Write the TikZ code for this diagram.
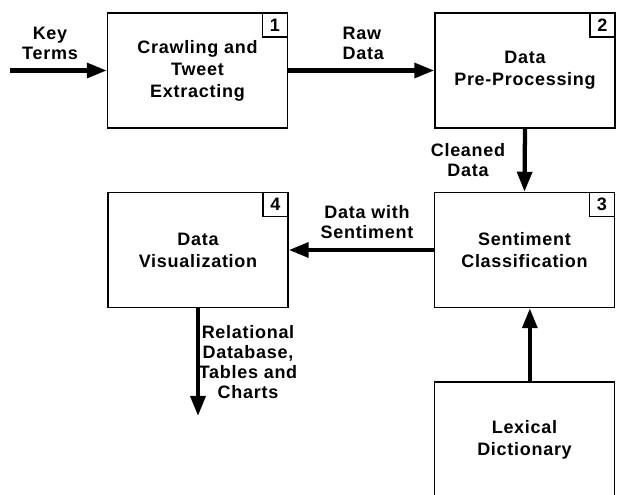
\documentclass[tikz,border=0pt]{standalone}
\usepackage{fontspec}
\setmainfont[LetterSpace=4]{Liberation Sans}
\usetikzlibrary{arrows.meta,positioning}

\begin{document}
\begin{tikzpicture}[
  x=0.75pt, y=-0.75pt,
  font=\fontsize{13.5}{16.5}\selectfont\bfseries,
  procbox/.style={draw, line width=1.1pt, align=center, inner sep=0pt,
                  minimum width=135pt, minimum height=86.25pt},
  numbox/.style={draw, line width=1.1pt, anchor=north east, inner sep=0pt,
                 minimum width=18.75pt, minimum height=18pt},
  lbl/.style={align=center, font=\fontsize{13.5}{15}\selectfont\bfseries},
  flow/.style={-{Triangle[length=15pt,width=11pt]}, line width=3.2pt},
]
  \useasboundingbox (0,0) rectangle (637,495);

  % process boxes
  \node[procbox] (crawl) at (197.5,70.5) {Crawling and\\Tweet\\Extracting};
  \node[procbox] (prep) at (525,70.5) {Data\\Pre-Processing};
  \node[procbox] (senti) at (524.5,250) {Sentiment\\Classification};
  \node[procbox] (visu) at (198,250) {Data\\Visualization};
  \node[procbox] (lexi) at (524.5,439.5) {Lexical\\Dictionary};

  % step numbers
  \node[numbox] (n1) at (crawl.north east) {1};
  \node[numbox] (n2) at (prep.north east) {2};
  \node[numbox] (n3) at (senti.north east) {3};
  \node[numbox] (n4) at (visu.north east) {4};

  % free ends
  \coordinate (kin) at (10,70.5);
  \coordinate (rout) at (198,416);

  % flows
  \draw[flow] (kin) -- (crawl.west);
  \draw[flow] (crawl.east) -- (prep.west);
  \draw[flow] (prep.south) -- (senti.north);
  \draw[flow] (senti.west) -- (visu.east);
  \draw[flow] ([xshift=4pt]lexi.north) -- ([xshift=4pt]senti.south);
  \draw[flow] (visu.south) -- (rout);

  % flow labels
  \node[lbl] (kt) at (50,43) {Key\\Terms};
  \node[lbl, align=left, anchor=west] (rd) at (338,43) {Raw\\Data};
  \node[lbl] (cd) at (468,160) {Cleaned\\Data};
  \node[lbl] (ds) at (367,222) {Data with\\Sentiment};
  \node[lbl] (rel) at (248,362) {Relational\\Database,\\Tables and\\Charts};
\end{tikzpicture}
\end{document}
